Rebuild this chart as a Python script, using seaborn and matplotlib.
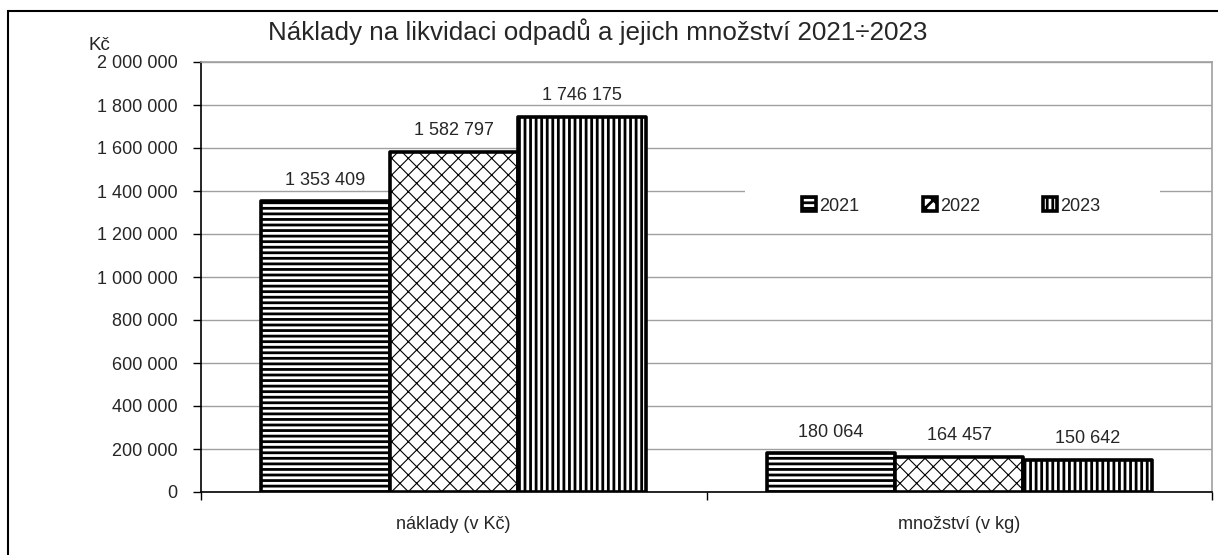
import seaborn as sns
import matplotlib.pyplot as plt
import pandas as pd
from matplotlib.patches import Rectangle
from matplotlib.ticker import FuncFormatter, MultipleLocator, FixedLocator

sns.set_theme(style="white")
plt.rcParams['font.family'] = ['Liberation Sans', 'DejaVu Sans']
plt.rcParams['hatch.linewidth'] = 2.0

kategorie = ['náklady (v Kč)', 'množství (v kg)']
roky = ['2021', '2022', '2023']
naklady = [1353409, 1582797, 1746175]
mnozstvi = [180064, 164457, 150642]
vzory = ['---', 'xx', '|||']

rows = []
for i, rok in enumerate(roky):
    rows.append({'kategorie': kategorie[0], 'rok': rok, 'hodnota': naklady[i]})
    rows.append({'kategorie': kategorie[1], 'rok': rok, 'hodnota': mnozstvi[i]})
df = pd.DataFrame(rows)


def mezery(v, pos=None):
    return f"{int(v):,}".replace(",", " ")


fig = plt.figure(figsize=(12.18, 5.55), dpi=100)
ax = fig.add_axes([201 / 1218, 1 - 492 / 555, 1011 / 1218, 430 / 555])

sns.barplot(data=df, x='kategorie', y='hodnota', hue='rok', order=kategorie,
            hue_order=roky, palette=['white'] * 3, width=0.762, gap=0,
            edgecolor='black', linewidth=2.6, saturation=1, ax=ax)

for cont, vzor in zip(ax.containers, vzory):
    for bar in cont:
        bar.set_hatch(vzor)
        bar.set_edgecolor('black')
        bar.set_joinstyle('round')
        if vzor == 'xx' and hasattr(bar, 'set_hatch_linewidth'):
            bar.set_hatch_linewidth(0.8)
    ax.bar_label(cont, labels=[mezery(b.get_height()) for b in cont],
                 padding=9, fontsize=13)

ax.set_xlim(-0.5, 1.5)
ax.set_ylim(0, 2000000)
ax.yaxis.set_major_locator(MultipleLocator(200000))
ax.yaxis.set_major_formatter(FuncFormatter(mezery))
ax.grid(axis='y', color='#a0a0a0', linewidth=1)
ax.set_axisbelow(True)
ax.set_xlabel('')
ax.set_ylabel('')

for s in ['top', 'right']:
    ax.spines[s].set_color('#a0a0a0')
    ax.spines[s].set_linewidth(1.2)
for s in ['left', 'bottom']:
    ax.spines[s].set_color('black')
    ax.spines[s].set_linewidth(1.2)

ax.tick_params(axis='y', which='major', direction='out', length=6, width=1,
               color='black', labelsize=13, pad=11, left=True)
ax.tick_params(axis='x', which='major', length=0, labelsize=13, pad=17)
ax.xaxis.set_minor_locator(FixedLocator([-0.5, 0.5, 1.5]))
ax.tick_params(axis='x', which='minor', direction='out', length=6, width=1,
               color='black', bottom=True)

# white backing of the legend that hides the gridlines
ax.add_patch(Rectangle((0.538, 0.605), 0.411, 0.107, transform=ax.transAxes,
                       facecolor='white', edgecolor='none', zorder=0.8))
leg = ax.legend(ax.containers, roky, loc='center', ncol=3,
                bbox_to_anchor=(0.742, 0.665), frameon=False, fontsize=13,
                handlelength=0.8, handleheight=0.8, handletextpad=0.15,
                columnspacing=3.5, borderaxespad=0)

fig.text(268 / 1218, 1 - 32 / 555, 'Náklady na likvidaci odpadů a jejich množství 2021÷2023',
         fontsize=18.7, va='center', ha='left')
fig.text(89 / 1218, 1 - 45 / 555, 'Kč', fontsize=13.5, va='center', ha='left')

fig.add_artist(Rectangle((8 / 1218, -0.1), 1.1, 1.1 - 11 / 555,
                         transform=fig.transFigure, fill=False,
                         edgecolor='black', linewidth=1.5))

fig.savefig('out.png', dpi=100)
